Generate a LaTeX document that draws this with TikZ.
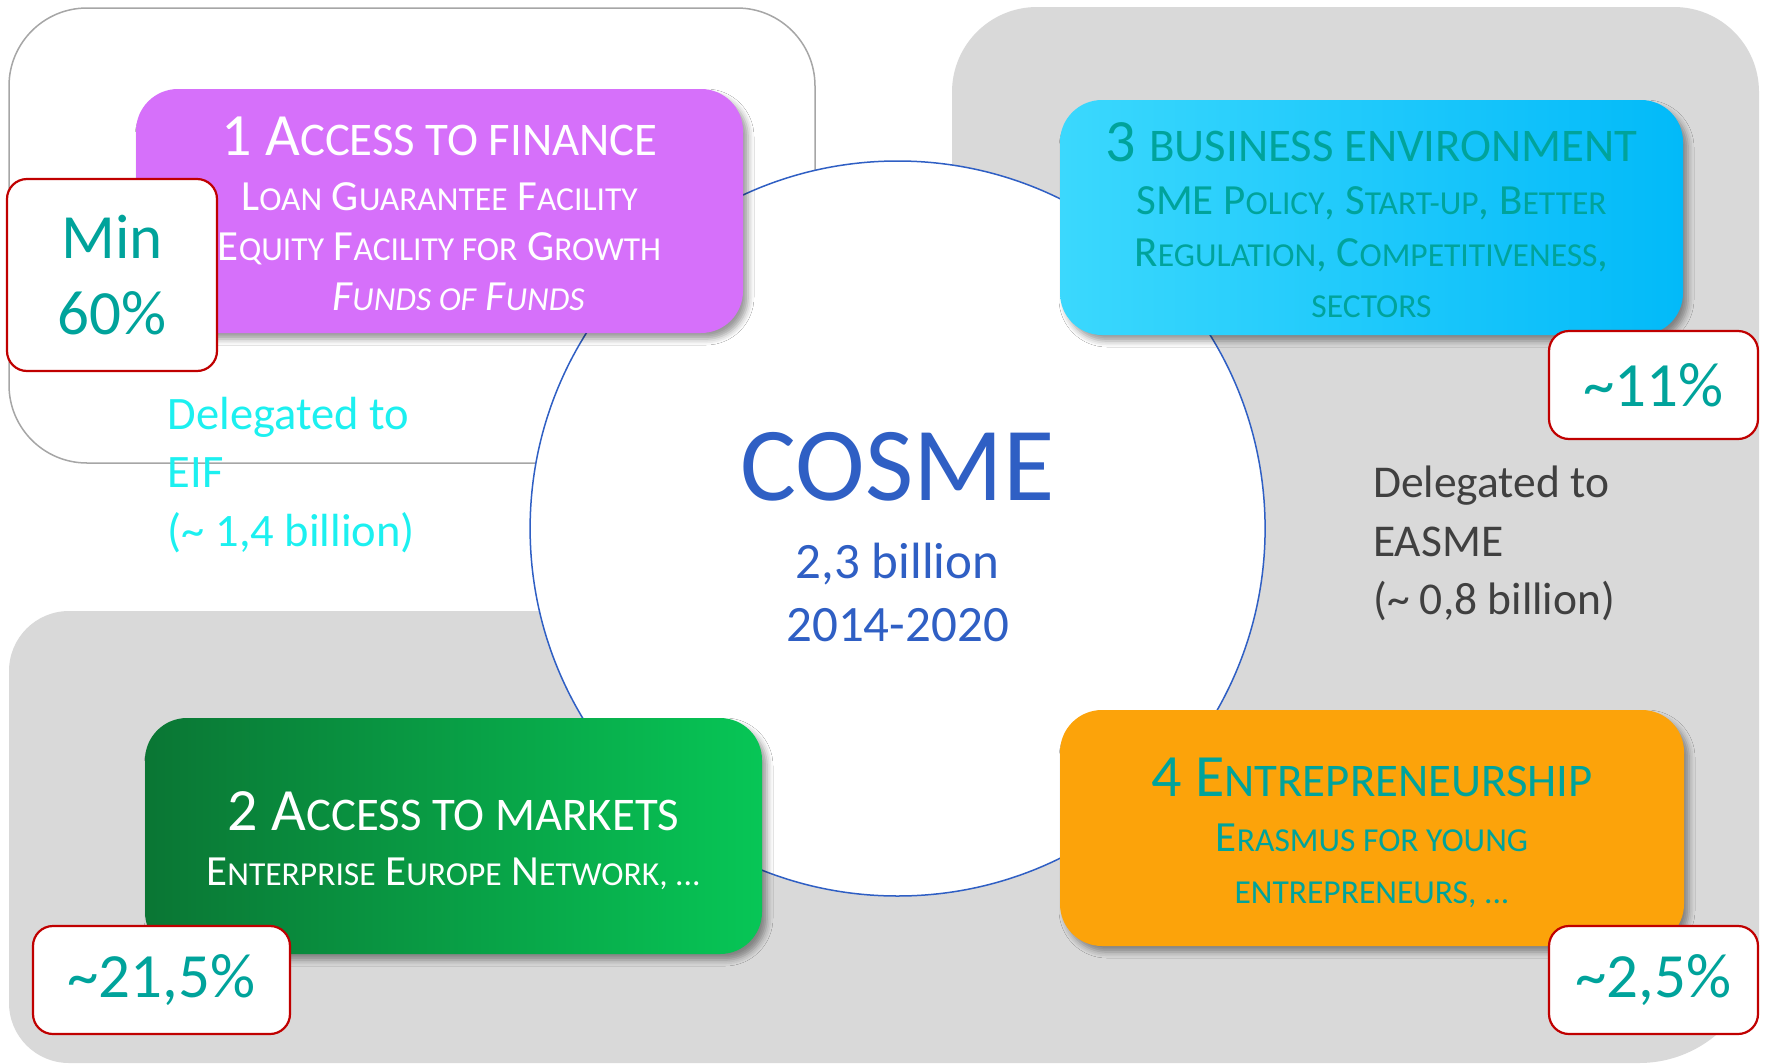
\documentclass[tikz,border=0pt]{standalone}
\usepackage{fontspec}
\setmainfont{Carlito}
\usetikzlibrary{positioning,shadows.blur}

\definecolor{violetbox}{HTML}{D670FA}
\definecolor{cyanL}{HTML}{3BD8FD}
\definecolor{cyanR}{HTML}{02BAF9}
\definecolor{greenL}{HTML}{0A7634}
\definecolor{greenR}{HTML}{07C656}
\definecolor{orangebox}{HTML}{FCA30A}
\definecolor{tealtext}{HTML}{00A39B}
\definecolor{cosmeblue}{HTML}{2F5FC4}
\definecolor{framered}{HTML}{C00000}
\definecolor{zonegray}{HTML}{D9D9D9}
\definecolor{framegray}{HTML}{A6A6A6}
\definecolor{eifcyan}{HTML}{1CF0F0}
\definecolor{easmegray}{HTML}{404040}

\makeatletter
\newcommand\lc[1]{{\fontsize{\the\dimexpr\f@size pt*78/100\relax}{\f@baselineskip}\selectfont\MakeUppercase{#1}}}
\makeatother
% title line; #1 = strut height, pushes the block down a little
\newcommand\ttl[2]{{\fontsize{60}{50}\selectfont\rule{0pt}{#1}#2}}

\begin{document}
\begin{tikzpicture}[x=1pt,y=-1pt,
    progbox/.style={rounded corners=42pt,inner sep=0pt,align=center,
      font=\fontsize{43}{50}\selectfont,
      blur shadow={shadow xshift=5pt,shadow yshift=-6pt,shadow blur radius=6pt}},
    pctbox/.style={draw=framered,line width=2.2pt,fill=white,rounded corners=20pt,
      inner sep=0pt,text=tealtext,align=center,font=\fontsize{63}{76}\selectfont},
    delegtext/.style={anchor=north west,inner sep=0pt,align=left}]
  \useasboundingbox (0,0) rectangle (1767,1063);
  % grey zone (EASME side)
  \fill[zonegray] (400,1063) [rounded corners=60pt] -- (9,1063) -- (9,611) -- (600,611)
    [sharp corners] -- (952,611) -- (952,400) [rounded corners=85pt] -- (952,7) -- (1759,7)
    -- (1759,500) [rounded corners=120pt] -- (1759,1063) -- (1300,1063) [sharp corners] -- cycle;
  % white frame (EIF side)
  \draw[framegray,line width=1.5pt,fill=white,rounded corners=78pt] (9,8) rectangle (815,463);

  \node[circle,draw=cosmeblue,line width=1.5pt,fill=white,minimum size=735pt,inner sep=0pt] (hub) at (897.6,528.5) {};

  \node[progbox,fill=violetbox,text=white,minimum width=607pt,minimum height=244pt] (finance) at (439.5,211)
    {\ttl{45pt}{1 A\lc{ccess to finance}}\\[5pt]
     L\lc{oan} G\lc{uarantee} F\lc{acility}\\
     E\lc{quity} F\lc{acility for} G\lc{rowth}\\
     \hspace*{38pt}\textit{F\lc{unds of} F\lc{unds}}};
  \node[progbox,left color=cyanL,right color=cyanR,text=tealtext,minimum width=623pt,minimum height=235pt,
        font=\fontsize{43}{51.5}\selectfont] (business) at (1371.5,217.5)
    {\ttl{44.5pt}{3 \lc{business environment}}\\[2pt]
     SME P\lc{olicy}, S\lc{tart-up}, B\lc{etter}\\
     R\lc{egulation}, C\lc{ompetitiveness},\\
     \lc{sectors}};
  \node[progbox,left color=greenL,right color=greenR,text=white,minimum width=617pt,minimum height=236pt] (markets) at (453.5,836)
    {\ttl{49pt}{2 A\lc{ccess to markets}}\\[5pt]
     E\lc{nterprise} E\lc{urope} N\lc{etwork, ...}};
  \node[progbox,fill=orangebox,text=tealtext,minimum width=624pt,minimum height=236pt,
        font=\fontsize{43}{52}\selectfont] (entrepreneur) at (1372,828)
    {\ttl{48.5pt}{4 E\lc{ntrepreneurship}}\\[3pt]
     E\lc{rasmus for young}\\
     \lc{entrepreneurs, ...}};

  \node[pctbox,minimum width=210pt,minimum height=192pt] (minfinance) at (112,275) {Min\\60\%};
  \node[pctbox,minimum width=209pt,minimum height=108pt] (pctbusiness) at (1653.5,385) {\textasciitilde 11\%};
  \node[pctbox,minimum width=257pt,minimum height=108pt] (pctmarkets) at (161.5,980) {\textasciitilde 21,5\%};
  \node[pctbox,minimum width=209pt,minimum height=108pt] (pctentre) at (1653.5,980) {\textasciitilde 2,5\%};

  \node[delegtext,text=eifcyan,font=\fontsize{46.5}{58.5}\selectfont] (eif) at (167.6,397)
    {Delegated to\\EIF\\(\textasciitilde{} 1,4 billion)};
  \node[delegtext,text=easmegray,font=\fontsize{45.5}{58.5}\selectfont] (easme) at (1373,466)
    {Delegated to\\EASME\\(\textasciitilde{} 0,8 billion)};

  \node[text=cosmeblue,align=center,inner sep=0pt,font=\fontsize{51}{63}\selectfont,yshift=-8.5pt] (cosme) at (hub.center)
    {{\fontsize{105}{63}\selectfont COSME}\\[15pt]
     2,3 billion\\
     2014-2020};
\end{tikzpicture}
\end{document}
